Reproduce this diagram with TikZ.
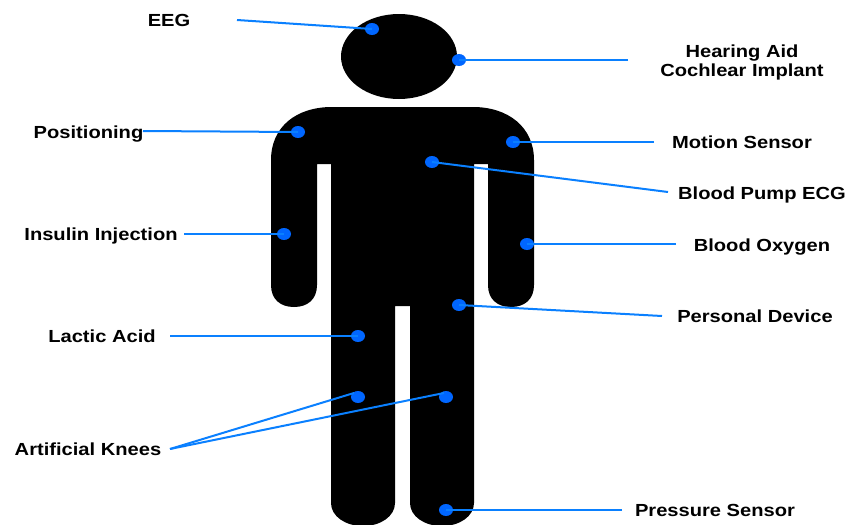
\documentclass[tikz,border=0pt]{standalone}
\usepackage{fontspec}
\setmainfont[FakeStretch=1.15]{Liberation Sans}
\usetikzlibrary{shapes.geometric}
\definecolor{dotblue}{HTML}{0066FF}
\definecolor{lineblue}{HTML}{0A80FF}
\tikzset{
  px/.style={x=1pt,y=-1pt},
  lab/.style={inner sep=0pt,font=\bfseries\fontsize{17.5}{18.3}\selectfont,align=center,text=black},
  one/.style={lab,text height=16pt,text depth=3pt},
  sdot/.style={ellipse,fill=dotblue,draw=none,minimum width=14pt,minimum height=12pt,inner sep=0pt},
  lead/.style={draw=lineblue,line width=2pt},
}
\begin{document}
\begin{tikzpicture}[px]
\useasboundingbox (0,0) rectangle (847,525);
\fill[white] (0,0) rectangle (847,525);
% figure
\begin{scope}
\clip (0,0) rectangle (847,525);
\fill[black] (399,56.5) ellipse[x radius=58,y radius=42.5];
\fill[black] (332,107) -- (473,107)
  .. controls (508,107) and (534,127) .. (534,160)
  -- (534,285) .. controls (534,299) and (525,307) .. (511,307)
  .. controls (497,307) and (488,299) .. (488,285)
  -- (488,164) -- (474,164) -- (474,503)
  .. controls (474,516) and (460,526) .. (442,526)
  .. controls (424,526) and (410,516) .. (410,503)
  -- (410,306) -- (395,306) -- (395,503)
  .. controls (395,516) and (381,526) .. (363,526)
  .. controls (345,526) and (331,516) .. (331,503)
  -- (331,164) -- (317,164) -- (317,285)
  .. controls (317,299) and (308,307) .. (294,307)
  .. controls (280,307) and (271,299) .. (271,285)
  -- (271,160) .. controls (271,127) and (296,107) .. (332,107) -- cycle;
\end{scope}
% sensor dots
\node[sdot] (dEEG) at (372,29) {};
\node[sdot] (dHear) at (459,60) {};
\node[sdot] (dPos) at (298,132) {};
\node[sdot] (dMot) at (513,142) {};
\node[sdot] (dPump) at (432,162) {};
\node[sdot] (dIns) at (284,234) {};
\node[sdot] (dOxy) at (527,244) {};
\node[sdot] (dPers) at (459,305) {};
\node[sdot] (dLac) at (358,336) {};
\node[sdot] (dKneeL) at (358,397) {};
\node[sdot] (dKneeR) at (446,397) {};
\node[sdot] (dPres) at (446,510) {};
% free ends
\coordinate (eEEG) at (237,20);
\coordinate (eHear) at (628,60);
\coordinate (ePos) at (143,131);
\coordinate (eMot) at (654,142);
\coordinate (ePump) at (668,192);
\coordinate (eIns) at (184,234);
\coordinate (eOxy) at (676,244);
\coordinate (ePers) at (662,316);
\coordinate (eLac) at (170,336);
\coordinate (eKnee) at (170,449);
\coordinate (ePres) at (622,510);
\coordinate (tKneeL) at (354,393);
\coordinate (tKneeR) at (444,393);
% connectors
\draw[lead] (eEEG) -- (dEEG.center);
\draw[lead] (eHear) -- (dHear.center);
\draw[lead] (ePos) -- (dPos.center);
\draw[lead] (eMot) -- (dMot.center);
\draw[lead] (ePump) -- (dPump.center);
\draw[lead] (eIns) -- (dIns.center);
\draw[lead] (eOxy) -- (dOxy.center);
\draw[lead] (ePers) -- (dPers.center);
\draw[lead] (eLac) -- (dLac.center);
\draw[lead] (eKnee) -- (tKneeL);
\draw[lead] (eKnee) -- (tKneeR);
\draw[lead] (ePres) -- (dPres.center);
% labels
\node[one] (tEEG) at (169,20) {EEG};
\node[lab] (tHear) at (742,62.5) {Hearing Aid\\Cochlear Implant};
\node[one] (tPos) at (88.5,132) {Positioning};
\node[one] (tMot) at (742,142) {Motion Sensor};
\node[one] (tPump) at (762,193) {Blood Pump ECG};
\node[one] (tIns) at (101,234) {Insulin Injection};
\node[one] (tOxy) at (762,245) {Blood Oxygen};
\node[one] (tPers) at (755,316) {Personal Device};
\node[one] (tLac) at (102,336) {Lactic Acid};
\node[one] (tKnee) at (88,449) {Artificial Knees};
\node[one] (tPres) at (715,510) {Pressure Sensor};
\end{tikzpicture}
\end{document}
